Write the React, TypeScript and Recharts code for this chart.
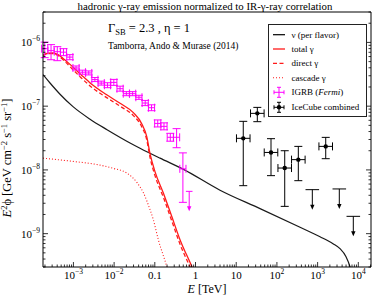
import React from 'react';
import { ComposedChart, Line, Scatter, XAxis, YAxis, ErrorBar, Legend } from 'recharts';

const SERIF = '"Liberation Serif", "DejaVu Serif", serif';
const RED = '#ff1a1a';
const MAGENTA = '#ff00ff';

const X_DOMAIN = [1.79e-4, 2.05e4];
const Y_DOMAIN = [3e-10, 3e-6];

const X_MAJOR = [1e-3, 1e-2, 0.1, 1, 10, 1e2, 1e3, 1e4];
const X_LABELS = ['10^−3', '10^−2', '0.1', '1', '10', '10^2', '10^3', '10^4'];
const Y_MAJOR = [1e-9, 1e-8, 1e-7, 1e-6];
const Y_LABELS = ['10^−9', '10^−8', '10^−7', '10^−6'];

// nu (per flavor)
const NU_E = [1.79e-4, 2.66e-4, 4.69e-4, 9.77e-4, 2.56e-3, 6.7e-3, 2.46e-2, 4.33e-2, 0.134, 0.493, 4.0, 38.5, 370, 1146, 2388, 3548, 4989, 6252, 7000];
const NU_F = [3.12e-7, 2.31e-7, 1.54e-7, 9.82e-8, 6.25e-8, 4.28e-8, 2.65e-8, 2.19e-8, 1.53e-8, 1.03e-8, 4.81e-9, 2.47e-9, 1.26e-9, 8.97e-10, 6.97e-10, 5.82e-10, 4.36e-10, 3.03e-10, 2.3e-10];

// gamma curves
const GAMMA_E = [1.79e-4, 2.38e-4, 3.15e-4, 4.19e-4, 5.88e-4, 9.24e-4, 1.54e-3, 2.71e-3, 6.58e-3, 1.4e-2, 2.97e-2, 4.77e-2, 6.32e-2, 7.62e-2, 0.101, 0.162, 0.26, 0.416, 0.807, 1.03];
const TOTAL_F = [6.31e-7, 6.78e-7, 6.84e-7, 6.43e-7, 5.46e-7, 4.24e-7, 3.12e-7, 2.25e-7, 1.51e-7, 1.11e-7, 7.91e-8, 5.31e-8, 3.36e-8, 1.8e-8, 9.4e-9, 4.34e-9, 1.87e-9, 8.05e-10, 3.07e-10, 2.11e-10];
const DIRECT_F = [6.19e-7, 6.67e-7, 6.67e-7, 6.19e-7, 5.18e-7, 3.87e-7, 2.8e-7, 2.02e-7, 1.36e-7, 1.0e-7, 7.1e-8, 4.76e-8, 2.99e-8, 1.58e-8, 8.13e-9, 3.74e-9, 1.6e-9, 6.85e-10, 2.63e-10, 1.83e-10];
const CASC_E = [1.79e-4, 9.77e-4, 4.51e-3, 9.4e-3, 2.07e-2, 3.66e-2, 5.22e-2, 7.62e-2, 9.19e-2, 0.122, 0.196, 0.223];
const CASC_F = [1.53e-8, 1.36e-8, 1.19e-8, 1.06e-8, 8.89e-9, 6.31e-9, 4.4e-9, 2.38e-9, 1.66e-9, 8.05e-10, 3.07e-10, 2.28e-10];

// IGRB (Fermi)
const IGRB_E = [1.97e-4, 2.82e-4, 4.02e-4, 5.71e-4, 8.16e-4, 1.16e-3, 1.66e-3, 2.38e-3, 3.37e-3, 4.82e-3, 6.89e-3, 9.84e-3, 1.4e-2, 2.0e-2, 2.85e-2, 4.07e-2, 5.81e-2, 8.3e-2, 0.118, 0.168, 0.24, 0.343, 0.49];
const IGRB_F = [7.98e-7, 7.43e-7, 7.16e-7, 7.03e-7, 5.88e-7, 3.97e-7, 3.41e-7, 3.32e-7, 2.61e-7, 2.3e-7, 2.13e-7, 2.36e-7, 1.88e-7, 1.57e-7, 1.57e-7, 1.38e-7, 1.12e-7, 9.46e-8, 5.36e-8, 4.82e-8, 3.25e-8, 3.25e-8, 1.04e-8];
const IGRB_HI = [1.01e-6, 9.23e-7, 8.58e-7, 7.98e-7, 6.43e-7, 4.27e-7, 3.67e-7, 3.57e-7, 2.81e-7, 2.47e-7, 2.33e-7, 2.63e-7, 2.06e-7, 1.69e-7, 1.69e-7, 1.48e-7, 1.23e-7, 1.05e-7, 6.08e-8, 5.47e-8, 3.75e-8, 4.44e-8, 1.85e-8];
const IGRB_LO = [5.77e-7, 5.35e-7, 5.17e-7, 6.2e-7, 5.35e-7, 3.69e-7, 3.17e-7, 3.09e-7, 2.43e-7, 2.14e-7, 1.95e-7, 2.12e-7, 1.72e-7, 1.46e-7, 1.46e-7, 1.28e-7, 1.02e-7, 8.49e-8, 4.72e-8, 4.25e-8, 2.82e-8, 2.23e-8, 3.1e-9];
const IGRB_UL_E = [0.7];
const IGRB_UL_F = [4.61e-9];
const IGRB_HALF_BIN = 1.19;

// IceCube combined
const IC_E = [14.9, 33.0, 71.6, 155.6, 335.7, 1582];
const IC_F = [3.13e-8, 7.71e-8, 1.88e-8, 1.07e-8, 1.45e-8, 2.34e-8];
const IC_HI = [5.78e-8, 9.57e-8, 3.09e-8, 2.0e-8, 2.34e-8, 3.24e-8];
const IC_LO = [5.66e-9, 5.71e-8, 8.13e-9, 2.68e-9, 6.78e-9, 1.5e-8];
const IC_UL_E = [741, 3413, 7536];
const IC_UL_F = [4.9e-9, 5.03e-9, 1.87e-9];
const IC_HALF_BIN = 1.468;

const LEGEND_LABELS = ['ν (per flavor)', 'total γ', 'direct γ', 'cascade γ', 'IGRB (Fermi)', 'IceCube combined'];

const curve = (xs: number[], ys: number[]) => xs.map((e, i) => ({ e, f: ys[i] }));
const nuData = curve(NU_E, NU_F);
const totalData = curve(GAMMA_E, TOTAL_F);
const directData = curve(GAMMA_E, DIRECT_F);
const cascData = curve(CASC_E, CASC_F);

const igrbData = IGRB_E.map((e, i) => ({
  e,
  f: IGRB_F[i],
  ex: [e - e / IGRB_HALF_BIN, e * IGRB_HALF_BIN - e],
  ey: [IGRB_F[i] - IGRB_LO[i], IGRB_HI[i] - IGRB_F[i]],
}));
const igrbUl = IGRB_UL_E.map((e, i) => ({ e, f: IGRB_UL_F[i] }));
const icData = IC_E.map((e, i) => ({
  e,
  f: IC_F[i],
  ex: [e - e / IC_HALF_BIN, e * IC_HALF_BIN - e],
  ey: [IC_F[i] - IC_LO[i], IC_HI[i] - IC_F[i]],
}));
const icUl = IC_UL_E.map((e, i) => ({ e, f: IC_UL_F[i], ex: [e - e / IC_HALF_BIN, e * IC_HALF_BIN - e] }));

// 1..9 x 10^n inside the domain
const logTicks = (lo: number, hi: number) => {
  const out: number[] = [];
  for (let n = Math.floor(Math.log10(lo)); n <= Math.ceil(Math.log10(hi)); n++) {
    for (let k = 1; k < 10; k++) {
      const v = k * Math.pow(10, n);
      if (v >= lo && v <= hi) out.push(v);
    }
  }
  return out;
};
const X_TICKS = logTicks(X_DOMAIN[0], X_DOMAIN[1]);
const Y_TICKS = logTicks(Y_DOMAIN[0], Y_DOMAIN[1]);

const isMajor = (v: number) => Math.abs(Math.log10(v) - Math.round(Math.log10(v))) < 1e-6;
const findLabel = (v: number, majors: number[], labels: string[]) => {
  const i = majors.findIndex((m) => Math.abs(m - v) / m < 1e-6);
  return i >= 0 ? labels[i] : null;
};

const PowerText = ({ x, y, label, anchor }: { x: number; y: number; label: string; anchor: string }) => {
  const [base, exp] = label.split('^');
  return (
    <text x={x} y={y} textAnchor={anchor} fontFamily={SERIF} fontSize={11} fill="#000">
      {base}
      {exp && (
        <tspan dy={-5} fontSize={7.5}>
          {exp}
        </tspan>
      )}
    </text>
  );
};

const MAJOR_LEN = 5;
const MINOR_LEN = 2.5;
const TICK_STROKE = { stroke: '#000', strokeWidth: 0.8 };

const bottomTick = (p: any) => {
  const v = p.payload.value;
  const len = isMajor(v) ? MAJOR_LEN : MINOR_LEN;
  const label = findLabel(v, X_MAJOR, X_LABELS);
  return (
    <g>
      <line x1={p.x} x2={p.x} y1={p.y} y2={p.y - len} {...TICK_STROKE} />
      {label && <PowerText x={p.x} y={p.y + 11.5} label={label} anchor="middle" />}
    </g>
  );
};
const topTick = (p: any) => {
  const len = isMajor(p.payload.value) ? MAJOR_LEN : MINOR_LEN;
  return <line x1={p.x} x2={p.x} y1={p.y} y2={p.y + len} {...TICK_STROKE} />;
};
const leftTick = (p: any) => {
  const v = p.payload.value;
  const len = isMajor(v) ? MAJOR_LEN : MINOR_LEN;
  const label = findLabel(v, Y_MAJOR, Y_LABELS);
  return (
    <g>
      <line x1={p.x} x2={p.x + len} y1={p.y} y2={p.y} {...TICK_STROKE} />
      {label && <PowerText x={p.x - 3} y={p.y + 4} label={label} anchor="end" />}
    </g>
  );
};
const rightTick = (p: any) => {
  const len = isMajor(p.payload.value) ? MAJOR_LEN : MINOR_LEN;
  return <line x1={p.x} x2={p.x - len} y1={p.y} y2={p.y} {...TICK_STROKE} />;
};

const noMarker = () => <g />;
const icMarker = (p: any) => <circle cx={p.cx} cy={p.cy} r={2.2} fill="#000" />;
const arrowDown = (color: string, cap: number) => (p: any) => (
  <g stroke={color} fill={color} strokeWidth={1}>
    {cap > 0 && <line x1={p.cx - cap} x2={p.cx + cap} y1={p.cy} y2={p.cy} />}
    <line x1={p.cx} x2={p.cx} y1={p.cy} y2={p.cy + 16} />
    <path d={`M${p.cx - 2.2},${p.cy + 15} L${p.cx + 2.2},${p.cy + 15} L${p.cx},${p.cy + 20} Z`} stroke="none" />
  </g>
);

const ErrSample = ({ cx, cy, color, dot }: { cx: number; cy: number; color: string; dot?: boolean }) => (
  <g stroke={color} strokeWidth={1}>
    <line x1={cx - 5} x2={cx + 5} y1={cy} y2={cy} />
    <line x1={cx} x2={cx} y1={cy - 5} y2={cy + 5} />
    <line x1={cx - 2} x2={cx + 2} y1={cy - 5} y2={cy - 5} />
    <line x1={cx - 2} x2={cx + 2} y1={cy + 5} y2={cy + 5} />
    <line x1={cx - 5} x2={cx - 5} y1={cy - 2} y2={cy + 2} />
    <line x1={cx + 5} x2={cx + 5} y1={cy - 2} y2={cy + 2} />
    {dot && <circle cx={cx} cy={cy} r={2.2} fill={color} stroke="none" />}
  </g>
);

const renderLegend = () => {
  const rows = [10.7, 25, 39.3, 53.7, 68.3, 83.3];
  const sx0 = 5;
  const sx1 = 17;
  const tx = 23.5;
  return (
    <svg width={99} height={93} style={{ display: 'block' }}>
      <rect x={0.5} y={0.5} width={98} height={92} fill="#fff" stroke="#222" strokeWidth={1} />
      <line x1={sx0} x2={sx1} y1={rows[0]} y2={rows[0]} stroke="#000" strokeWidth={1.2} />
      <line x1={sx0} x2={sx1} y1={rows[1]} y2={rows[1]} stroke={RED} strokeWidth={1.3} />
      <line x1={sx0} x2={sx1} y1={rows[2]} y2={rows[2]} stroke={RED} strokeWidth={1.3} strokeDasharray="4 2.5" />
      <line x1={sx0} x2={sx1} y1={rows[3]} y2={rows[3]} stroke={RED} strokeWidth={1.1} strokeDasharray="1 2" />
      <ErrSample cx={11} cy={rows[4]} color={MAGENTA} />
      <ErrSample cx={11} cy={rows[5]} color="#000" dot />
      {LEGEND_LABELS.map((l, i) => {
        const m = l.match(/^(.*)\((Fermi)\)$/);
        return (
          <text key={l} x={tx} y={rows[i] + 3} fontFamily={SERIF} fontSize={9} fill="#000">
            {m ? (
              <>
                {m[1]}(<tspan fontStyle="italic">{m[2]}</tspan>)
              </>
            ) : (
              l
            )}
          </text>
        );
      })}
    </svg>
  );
};

const axisLine = { stroke: '#000', strokeWidth: 1 };

export default function App() {
  return (
    <div style={{ position: 'absolute', left: 0, top: 0, width: 374, height: 295, background: '#fff' }}>
      <ComposedChart width={374} height={295} margin={{ top: 11, right: 2, bottom: 27, left: 42 }}>
        <XAxis
          xAxisId="b"
          dataKey="e"
          type="number"
          scale="log"
          domain={X_DOMAIN}
          allowDataOverflow
          ticks={X_TICKS}
          interval={0}
          tick={bottomTick}
          tickLine={false}
          tickSize={0}
          tickMargin={0}
          height={1}
          axisLine={axisLine}
        />
        <XAxis
          xAxisId="t"
          orientation="top"
          type="number"
          scale="log"
          domain={X_DOMAIN}
          allowDataOverflow
          ticks={X_TICKS}
          interval={0}
          tick={topTick}
          tickLine={false}
          tickSize={0}
          tickMargin={0}
          height={1}
          axisLine={axisLine}
        />
        <YAxis
          yAxisId="l"
          dataKey="f"
          type="number"
          scale="log"
          domain={Y_DOMAIN}
          allowDataOverflow
          ticks={Y_TICKS}
          interval={0}
          tick={leftTick}
          tickLine={false}
          tickSize={0}
          tickMargin={0}
          width={1}
          axisLine={axisLine}
        />
        <YAxis
          yAxisId="r"
          orientation="right"
          type="number"
          scale="log"
          domain={Y_DOMAIN}
          allowDataOverflow
          ticks={Y_TICKS}
          interval={0}
          tick={rightTick}
          tickLine={false}
          tickSize={0}
          tickMargin={0}
          width={1}
          axisLine={axisLine}
        />
        <Line xAxisId="b" yAxisId="l" data={nuData} dataKey="f" type="monotone" stroke="#1a1a1a" strokeWidth={1.2} dot={false} isAnimationActive={false} />
        <Line xAxisId="b" yAxisId="l" data={cascData} dataKey="f" type="monotone" stroke={RED} strokeWidth={1.1} strokeDasharray="1 2" dot={false} isAnimationActive={false} />
        <Line xAxisId="b" yAxisId="l" data={directData} dataKey="f" type="monotone" stroke={RED} strokeWidth={1.3} strokeDasharray="4 2.5" dot={false} isAnimationActive={false} />
        <Line xAxisId="b" yAxisId="l" data={totalData} dataKey="f" type="monotone" stroke={RED} strokeWidth={1.3} dot={false} isAnimationActive={false} />
        <Scatter xAxisId="b" yAxisId="l" data={igrbData} dataKey="f" shape={noMarker} isAnimationActive={false}>
          <ErrorBar dataKey="ex" direction="x" width={4} stroke={MAGENTA} strokeWidth={1} />
          <ErrorBar dataKey="ey" direction="y" width={4} stroke={MAGENTA} strokeWidth={1} />
        </Scatter>
        <Scatter xAxisId="b" yAxisId="l" data={igrbUl} dataKey="f" shape={arrowDown(MAGENTA, 3.3)} isAnimationActive={false} />
        <Scatter xAxisId="b" yAxisId="l" data={icData} dataKey="f" shape={icMarker} isAnimationActive={false}>
          <ErrorBar dataKey="ex" direction="x" width={4} stroke="#000" strokeWidth={1} />
          <ErrorBar dataKey="ey" direction="y" width={4} stroke="#000" strokeWidth={1} />
        </Scatter>
        <Scatter xAxisId="b" yAxisId="l" data={icUl} dataKey="f" shape={arrowDown('#000', 0)} isAnimationActive={false}>
          <ErrorBar dataKey="ex" direction="x" width={0} stroke="#000" strokeWidth={1} />
        </Scatter>
        <Legend
          content={renderLegend}
          layout="vertical"
          align="center"
          verticalAlign="middle"
          width={99}
          height={93}
          wrapperStyle={{ left: 268, top: 24, width: 99, height: 93 }}
        />
      </ComposedChart>
      <svg width={374} height={295} style={{ position: 'absolute', left: 0, top: 0, pointerEvents: 'none' }}>
        <text x={205} y={9.5} textAnchor="middle" fontFamily={SERIF} fontSize={10.8} fill="#000">
          hadronic γ-ray emission normalized to IR-γ-ray correlation
        </text>
        <text x={108} y={32} fontFamily={SERIF} fontSize={12.5} fill="#000">
          Γ<tspan dy={2.5} fontSize={8.5}>SB</tspan>
          <tspan dy={-2.5}> = 2.3 , η = 1</tspan>
        </text>
        <text x={108} y={48.5} fontFamily={SERIF} fontSize={9.5} fill="#000">
          Tamborra, Ando &amp; Murase (2014)
        </text>
        <text x={207} y={293} textAnchor="middle" fontFamily={SERIF} fontSize={12} fill="#000">
          <tspan fontStyle="italic">E</tspan> [TeV]
        </text>
        <text x={11} y={158} transform="rotate(-90 11 158)" textAnchor="middle" fontFamily={SERIF} fontSize={12.5} fill="#000">
          <tspan fontStyle="italic">E</tspan>
          <tspan dy={-4.5} fontSize={8.5}>2</tspan>
          <tspan dy={4.5}>ϕ [GeV cm</tspan>
          <tspan dy={-4.5} fontSize={8.5}>−2</tspan>
          <tspan dy={4.5}> s</tspan>
          <tspan dy={-4.5} fontSize={8.5}>−1</tspan>
          <tspan dy={4.5}> sr</tspan>
          <tspan dy={-4.5} fontSize={8.5}>−1</tspan>
          <tspan dy={4.5}>]</tspan>
        </text>
      </svg>
    </div>
  );
}
